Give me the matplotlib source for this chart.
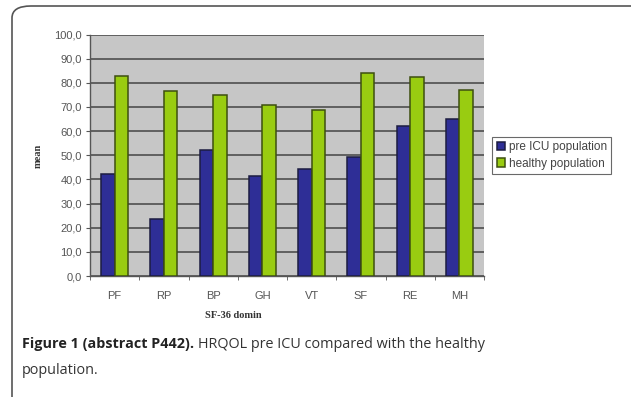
import numpy as np
import matplotlib.pyplot as plt
from matplotlib.patches import FancyBboxPatch

domains = ["PF", "RP", "BP", "GH", "VT", "SF", "RE", "MH"]
pre_icu = [42.2, 23.6, 52.2, 41.4, 44.3, 49.1, 62.1, 65.0]
healthy = [82.7, 76.6, 74.8, 70.7, 68.7, 83.9, 82.3, 76.9]
yticks = np.arange(0, 101, 10)
ytick_labels = ["%d,0" % v for v in yticks]

W, H = 631, 397
fig = plt.figure(figsize=(W / 100, H / 100), dpi=100)

# rounded frame round the figure panel
frame = FancyBboxPatch((12 / W, -0.2), (W + 20) / W, 1.2 - 6 / H,
                       boxstyle="round,pad=0,rounding_size=0.03",
                       transform=fig.transFigure, fill=False,
                       edgecolor="#555555", linewidth=1.2, clip_on=False)
fig.patches.append(frame)

ax = fig.add_axes([90 / W, 1 - 276 / H, (484 - 90) / W, (276 - 34.5) / H])
ax.set_facecolor("#c6c6c6")

x = np.arange(len(domains))
w = 0.275
ax.bar(x - w / 2, pre_icu, w, color="#2e2e96", edgecolor="#1c1c40",
       linewidth=1.1, label="pre ICU population", zorder=3)
ax.bar(x + w / 2, healthy, w, color="#99cc11", edgecolor="#3d4f10",
       linewidth=1.1, label="healthy population", zorder=3)

ax.set_xlim(-0.5, len(domains) - 0.5)
ax.set_ylim(0, 100)
ax.set_yticks(yticks)
ax.set_yticklabels(ytick_labels)
ax.yaxis.grid(True, color="#444444", linewidth=1.1, zorder=1)
ax.set_axisbelow(True)

ax.set_xticks(x)
ax.set_xticklabels(domains)
ax.set_xticks(np.arange(len(domains) + 1) - 0.5, minor=True)
ax.tick_params(axis="x", which="major", length=0, pad=11,
               labelsize=8, labelcolor="#555555")
ax.tick_params(axis="x", which="minor", length=3, color="#555555")
ax.tick_params(axis="y", length=3, color="#555555", labelsize=8,
               labelcolor="#555555", pad=3)
for lab in ax.get_xticklabels() + ax.get_yticklabels():
    lab.set_family("Liberation Sans")

for s in ["top", "right"]:
    ax.spines[s].set_visible(False)
for s in ["left", "bottom"]:
    ax.spines[s].set_color("#555555")
    ax.spines[s].set_linewidth(1.0)

fig.text(38 / W, 1 - 156 / H, "mean", rotation=90, ha="center", va="center",
         fontsize=7.5, fontweight="bold", color="#333333",
         family="Liberation Serif")
fig.text(233 / W, 1 - 315 / H, "SF-36 domin", ha="center", va="center",
         fontsize=7.5, fontweight="bold", color="#333333",
         family="Liberation Serif")

leg = ax.legend(loc="center left", bbox_to_anchor=(492 / W, 1 - 155.5 / H),
                bbox_transform=fig.transFigure, frameon=True, fancybox=False,
                handlelength=0.7, handleheight=0.7, handletextpad=0.3,
                borderpad=0.4, labelspacing=0.35, borderaxespad=0,
                prop={"family": "Liberation Sans", "size": 8.5})
leg.get_frame().set_edgecolor("#444444")
leg.get_frame().set_linewidth(0.8)
for t in leg.get_texts():
    t.set_color("#444444")

cap_y1 = 1 - 344 / H
t1 = fig.text(22 / W, cap_y1, "Figure 1 (abstract P442).", ha="left",
              va="center", fontsize=10.4, fontweight="bold", color="#222222",
              family="Open Sans")
fig.canvas.draw()
bb = t1.get_window_extent()
fig.text(bb.x1 / W + 4 / W, cap_y1, "HRQOL pre ICU compared with the healthy",
         ha="left", va="center", fontsize=10.4, color="#333333",
         family="Open Sans")
fig.text(22 / W, 1 - 370 / H, "population.", ha="left", va="center",
         fontsize=10.4, color="#333333", family="Open Sans")

plt.savefig("out.png", dpi=100)
